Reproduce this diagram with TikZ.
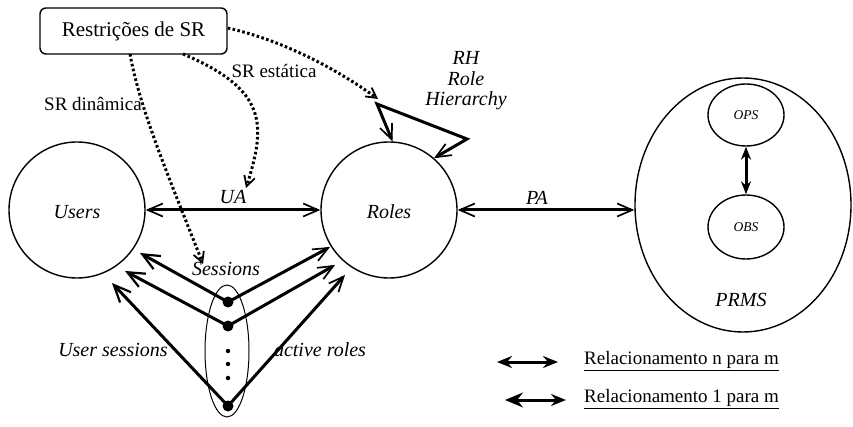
\documentclass[tikz,border=0pt]{standalone}
\usepackage{fontspec}
\setmainfont{Liberation Serif}
\usetikzlibrary{arrows.meta,shapes.geometric}
\begin{document}
\begin{tikzpicture}[x=1pt,y=-1pt,
  every node/.style={font=\fontsize{20}{20.5}\selectfont},
  lbl/.style={font=\fontsize{20}{20.5}\selectfont\itshape, inner sep=0pt},
  slbl/.style={font=\fontsize{19}{20}\selectfont, inner sep=0pt},
  bigcirc/.style={circle, draw, line width=1.4pt, minimum size=136pt, inner sep=0pt},
  ell/.style={ellipse, draw, line width=1.4pt, inner sep=0pt},
  barb/.tip={Straight Barb[length=15pt,width=13pt,line width=1.7pt]},
  bigbarb/.tip={Straight Barb[length=17pt,width=15pt,line width=2.2pt]},
  dbarb/.tip={Straight Barb[length=10pt,width=11pt,line width=1.8pt]},
  conn/.style={line width=3pt},
  dotconn/.style={line width=3pt, dash pattern=on 2.6pt off 2.4pt, -{dbarb}},
  dotnode/.style={circle, fill, inner sep=0pt, minimum size=11pt},
  smalldot/.style={circle, fill, inner sep=0pt, minimum size=4.5pt},
]
\useasboundingbox (0,0) rectangle (853,427);

% nodes
\node[draw, rounded corners=6pt, line width=1.4pt, minimum width=187pt, minimum height=46pt,
      font=\fontsize{21}{22}\selectfont] (box) at (133.5,31) {Restrições de SR};
\node[bigcirc] (users) at (77,210) {};
\node[lbl] (userslbl) at (77,212) {Users};
\node[bigcirc] (roles) at (389,210) {};
\node[lbl] (roleslbl) at (389,212) {Roles};
\node[ell, minimum width=216pt, minimum height=254pt] (prms) at (743,205) {};
\node[lbl] (prmslbl) at (741,300) {PRMS};
\node[ell, minimum width=76pt, minimum height=62pt, font=\fontsize{13.5}{14}\selectfont\itshape] (ops) at (746,115) {OPS};
\node[ell, minimum width=76pt, minimum height=64pt, font=\fontsize{13.5}{14}\selectfont\itshape] (obs) at (746,227) {OBS};
\node[lbl, align=center] (rh) at (466,81) {RH\\Role\\Hierarchy};
\node[lbl] (ualbl) at (233,197) {UA};
\node[lbl] (palbl) at (537,198) {PA};
\node[slbl] (srest) at (274,71) {SR estática};
\node[slbl] (srdin) at (93,104) {SR dinâmica};
\node[lbl] (sesslbl) at (226,269) {Sessions};
\node[lbl] (uslbl) at (113,350) {User sessions};
\node[lbl] (arlbl) at (320,350) {active roles};

\node[ellipse, draw, line width=1pt, minimum width=44pt, minimum height=132pt, inner sep=0pt] (sessell) at (227,351) {};
\node[dotnode] (s1) at (228,302) {};
\node[dotnode] (s2) at (228,326) {};
\node[smalldot] (d1) at (228,351) {};
\node[smalldot] (d2) at (228,364) {};
\node[smalldot] (d3) at (228,378) {};
\node[dotnode] (s3) at (228,406) {};

% free-end coordinates
\coordinate (u1) at (140,253);
\coordinate (u2) at (125,271);
\coordinate (u3) at (112,283);
\coordinate (r1) at (330,247);
\coordinate (r2) at (335,265);
\coordinate (r3) at (345,275);
\coordinate (rhc) at (377,104);
\coordinate (rhd) at (467,139);
\coordinate (dt1) at (378,99);
\coordinate (dt2) at (246,188);
\coordinate (dt3) at (203,264);
\coordinate (b2) at (183,54);
\coordinate (b3) at (130,54);
\coordinate (l1a) at (497,362);
\coordinate (l1b) at (558,362);
\coordinate (l2a) at (505,400);
\coordinate (l2b) at (566,400);

% main connectors
\draw[conn, {barb}-{barb}] (users.east) -- (roles.west);
\draw[conn, {barb}-{barb}] (roles.east) -- (roles.east -| prms.west);
\draw[conn, {Stealth[length=13pt,width=10pt]}-{Stealth[length=13pt,width=10pt]}] (ops.south) -- (obs.north);
\draw[conn, line join=miter, {barb}-{barb}] (roles.87) -- (rhc) -- (rhd) -- (roles.49);

% sessions
\draw[conn, -{bigbarb}] (s1.center) -- (u1);
\draw[conn, -{bigbarb}] (s2.center) -- (u2);
\draw[conn, -{bigbarb}] (s3.center) -- (u3);
\draw[conn, -{barb}] (s1.center) -- (r1);
\draw[conn, -{barb}] (s2.center) -- (r2);
\draw[conn, -{barb}] (s3.center) -- (r3);

% dotted constraints
\draw[dotconn] ([yshift=3pt]box.east) .. controls (290,42) and (345,75) .. (dt1);
\draw[dotconn] (b2) .. controls (268,90) and (266,125) .. (dt2);
\draw[dotconn] (b3) .. controls (140,110) and (170,180) .. (dt3);

% legend
\draw[line width=3pt, {Stealth[length=15pt,width=12pt]}-{Stealth[length=15pt,width=12pt]}] (l1a) -- (l1b);
\node[slbl, anchor=west] (leg1) at (584,361) {\underline{Relacionamento n para m}};
\draw[line width=3pt, {Stealth[length=18pt,width=15pt,line width=1.2pt]}-{Stealth[length=15pt,width=12pt]}] (l2a) -- (l2b);
\node[slbl, anchor=west] (leg2) at (584,399) {\underline{Relacionamento 1 para m}};
\end{tikzpicture}
\end{document}
